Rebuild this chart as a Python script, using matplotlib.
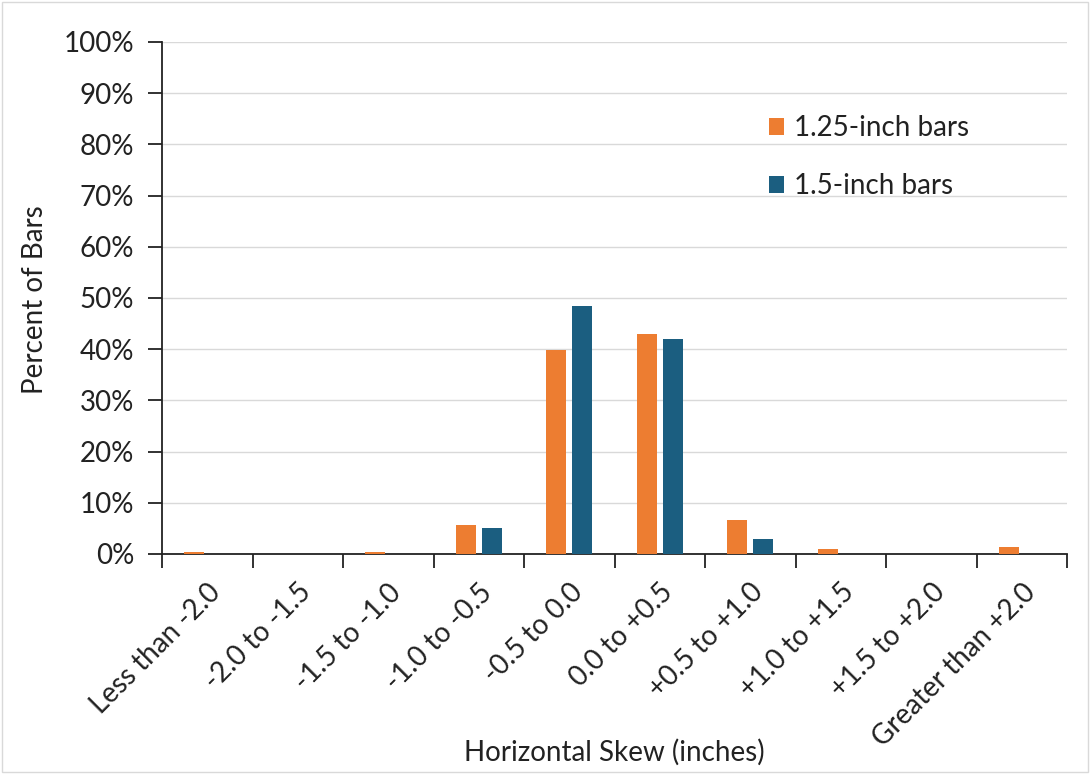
import matplotlib
matplotlib.use("Agg")
import matplotlib.pyplot as plt
import numpy as np

categories = ["Less than -2.0", "-2.0 to -1.5", "-1.5 to -1.0", "-1.0 to -0.5",
              "-0.5 to 0.0", "0.0 to +0.5", "+0.5 to +1.0", "+1.0 to +1.5",
              "+1.5 to +2.0", "Greater than +2.0"]
bars_125 = [0.4, 0.0, 0.3, 5.7, 39.8, 43.0, 6.6, 1.0, 0.0, 1.4]
bars_150 = [0.0, 0.0, 0.0, 5.1, 48.4, 42.0, 2.9, 0.0, 0.0, 0.0]
series_names = ["1.25-inch bars", "1.5-inch bars"]
yticks = [0, 10, 20, 30, 40, 50, 60, 70, 80, 90, 100]

plt.rcParams['font.family'] = ['Lato', 'DejaVu Sans']

fig = plt.figure(figsize=(10.9, 7.74), dpi=100)
ax = fig.add_axes([162/1090, 1-554/774, (1067-162)/1090, (554-42)/774])

x = np.arange(len(categories))
w = 0.22
off = 0.145
ax.bar(x - off, bars_125, width=w, color="#ED7D31", label=series_names[0], zorder=3)
ax.bar(x + off, bars_150, width=w, color="#1B5E80", label=series_names[1], zorder=3)

ax.set_xlim(-0.5, len(categories) - 0.5)
ax.set_ylim(0, 100)
ax.set_yticks(yticks)
ax.set_yticklabels([f"{v}%" for v in yticks], fontsize=20, color="#222222")
ax.yaxis.grid(True, color="#d9d9d9", linewidth=1, zorder=0)
ax.set_axisbelow(True)

ax.set_xticks(x)
ax.set_xticklabels(categories, rotation=45, ha="right", rotation_mode="anchor",
                   fontsize=20, color="#222222")
ax.tick_params(axis="x", which="major", length=0, pad=18)
ax.set_xticks(np.arange(-0.5, len(categories) + 0.5, 1), minor=True)
ax.tick_params(axis="x", which="minor", length=10, width=1.3, color="#222222", direction="out")
ax.tick_params(axis="y", length=10, width=1.3, color="#222222", direction="out", pad=10)

for s in ["top", "right"]:
    ax.spines[s].set_visible(False)
for s in ["left", "bottom"]:
    ax.spines[s].set_linewidth(1.3)
    ax.spines[s].set_color("#222222")

ax.set_ylabel("Percent of Bars", fontsize=20, color="#222222")
ax.yaxis.set_label_coords((35 - 162) / (1067 - 162), (554 - 300) / (554 - 42))
ax.yaxis.label.set_va("center")
ax.set_xlabel("Horizontal Skew (inches)", fontsize=20, color="#222222")
ax.xaxis.set_label_coords(0.5, (554 - 752) / (554 - 42))
ax.xaxis.label.set_va("center")

leg = ax.legend(loc="upper left", bbox_to_anchor=(0.643, 0.906), frameon=False,
                fontsize=20, handlelength=0.55, handleheight=0.55, handletextpad=0.35,
                labelspacing=1.15)
for t in leg.get_texts():
    t.set_color("#222222")

fig.patches.append(plt.Rectangle((0.002, 0.002), 0.996, 0.996, transform=fig.transFigure,
                                 fill=False, edgecolor="#d9d9d9", linewidth=1))

fig.savefig("out.png", dpi=100)
